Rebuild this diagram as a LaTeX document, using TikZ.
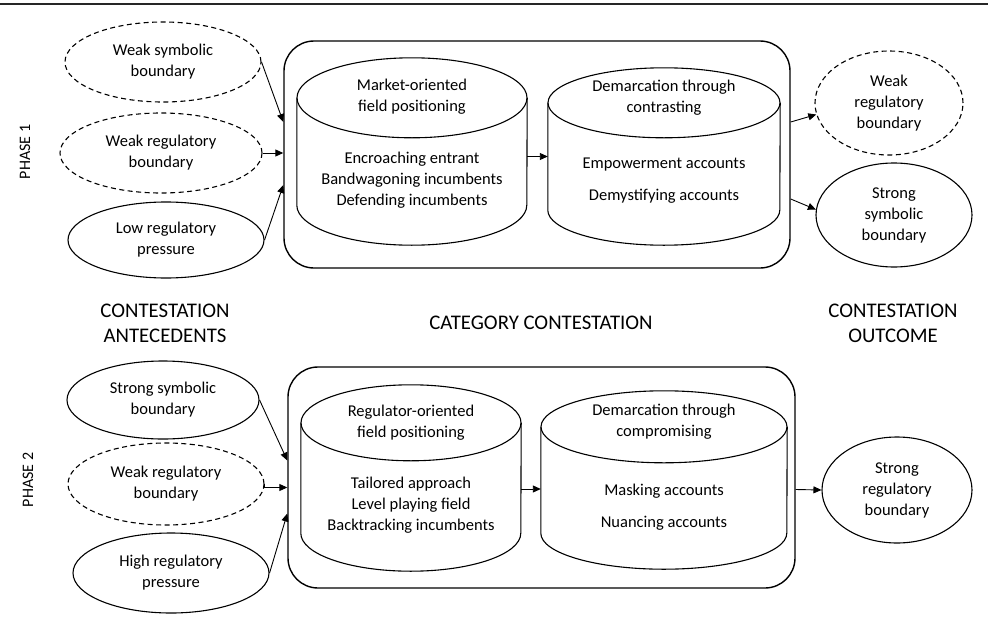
\documentclass[tikz,border=0pt]{standalone}
\usepackage{fontspec}
\setmainfont{Carlito}
\usetikzlibrary{shapes.geometric, arrows.meta}

\newcommand{\drum}[3]{%
  \draw[drumline] (#1.north west) -- (#1.south west)
    arc[start angle=180, end angle=360, x radius=#2, y radius=#3] -- (#1.north east);
  \draw[drumline] (#1.north) ellipse[x radius=#2, y radius=#3];}

\begin{document}
\begin{tikzpicture}[x=1pt, y=-1pt,
    every node/.style={font=\fontsize{16.5}{21}\selectfont, align=center},
    bound/.style={draw, ellipse, line width=1.1pt, inner sep=0pt},
    weak/.style={bound, dash pattern=on 5pt off 3.5pt},
    frame/.style={draw, rounded corners=30pt, line width=1.4pt, inner sep=0pt},
    drumbody/.style={inner sep=0pt},
    drumline/.style={line width=1.1pt},
    arr/.style={-{Triangle[length=8pt, width=7pt]}, line width=0.9pt},
    head/.style={font=\fontsize{20.8}{25}\selectfont},
    phase/.style={rotate=90, font=\fontsize{16}{19}\selectfont}]
  \useasboundingbox (0,0) rectangle (988,632);
  \draw[line width=2pt, black!85] (0,4) -- (988,4);

  % phase 1
  \node[phase] (ph1) at (25,152) {PHASE 1};
  \node[weak, minimum width=196pt, minimum height=80pt] (wsb1) at (163,62) {Weak symbolic\\boundary};
  \node[weak, minimum width=202pt, minimum height=80pt] (wrb1) at (161,153) {Weak regulatory\\boundary};
  \node[bound, minimum width=196pt, minimum height=76pt] (lrp) at (166,240) {Low regulatory\\pressure};
  \node[frame, minimum width=506pt, minimum height=227pt] (ph1box) at (537,154.5) {};
  \node[drumbody, minimum width=230pt, minimum height=107pt] (mkt) at (412,151.5) {};
  \drum{mkt}{115pt}{40pt}
  \node (mktT) at (412,97) {Market-oriented\\field positioning};
  \node (mktB) at (412,180) {Encroaching entrant\\Bandwagoning incumbents\\Defending incumbents};
  \node[drumbody, minimum width=232pt, minimum height=107pt] (dmc) at (664,156.5) {};
  \drum{dmc}{116pt}{35pt}
  \node (dmcT) at (664,98) {Demarcation through\\contrasting};
  \node (dmcB) at (664,181) {Empowerment accounts\\[11pt]Demystifying accounts};
  \node[weak, minimum width=148pt, minimum height=104pt] (wrb1o) at (889,103) {Weak\\regulatory\\boundary};
  \node[bound, minimum width=156pt, minimum height=104pt] (ssb1o) at (894,215) {Strong\\symbolic\\boundary};
  \draw[arr] (wsb1.east) -- ([yshift=32.5pt]ph1box.west);
  \draw[arr] (wrb1.east) -- ([yshift=1.5pt]ph1box.west);
  \draw[arr] (lrp.east) -- ([yshift=-30.5pt]ph1box.west);
  \draw[arr] (mkt.east |- dmc.west) -- (dmc.west);
  \draw[arr] ([yshift=32.5pt]ph1box.east) -- (wrb1o.189);
  \draw[arr] ([yshift=-44.5pt]ph1box.east) -- (ssb1o.176);

  % headings
  \node[head] (antec) at (165,323) {CONTESTATION\\ANTECEDENTS};
  \node[head] (categ) at (541,323) {CATEGORY CONTESTATION};
  \node[head] (outc) at (893,323) {CONTESTATION\\OUTCOME};

  % phase 2
  \node[phase] (ph2) at (28,480) {PHASE 2};
  \node[bound, minimum width=192pt, minimum height=78pt] (ssb2) at (163,400) {Strong symbolic\\boundary};
  \node[weak, minimum width=196pt, minimum height=82pt] (wrb2) at (166,484) {Weak regulatory\\boundary};
  \node[bound, minimum width=196pt, minimum height=80pt] (hrp) at (171,573) {High regulatory\\pressure};
  \node[frame, minimum width=507pt, minimum height=221pt] (ph2box) at (541.5,477.5) {};
  \node[drumbody, minimum width=220pt, minimum height=110pt] (reg) at (411,478) {};
  \drum{reg}{110pt}{38pt}
  \node (regT) at (411,422.5) {Regulator-oriented\\field positioning};
  \node (regB) at (411,505) {Tailored approach\\Level playing field\\Backtracking incumbents};
  \node[drumbody, minimum width=246pt, minimum height=106pt] (dmp) at (664,480) {};
  \drum{dmp}{123pt}{36pt}
  \node (dmpT) at (664,422) {Demarcation through\\compromising};
  \node (dmpB) at (664,507.5) {Masking accounts\\[11pt]Nuancing accounts};
  \node[bound, minimum width=150pt, minimum height=106pt] (srb) at (897,490) {Strong\\regulatory\\boundary};
  \draw[arr] (ssb2.east) -- ([yshift=17pt]ph2box.west);
  \draw[arr] (wrb2.east) |- ([yshift=-10pt]ph2box.west);
  \draw[arr] (hrp.east) -- ([yshift=-36pt]ph2box.west);
  \draw[arr] ([yshift=-11pt]reg.east) -- ([yshift=-9pt]dmp.west);
  \draw[arr] ([yshift=-12pt]ph2box.east) -- (srb.west);
\end{tikzpicture}
\end{document}
